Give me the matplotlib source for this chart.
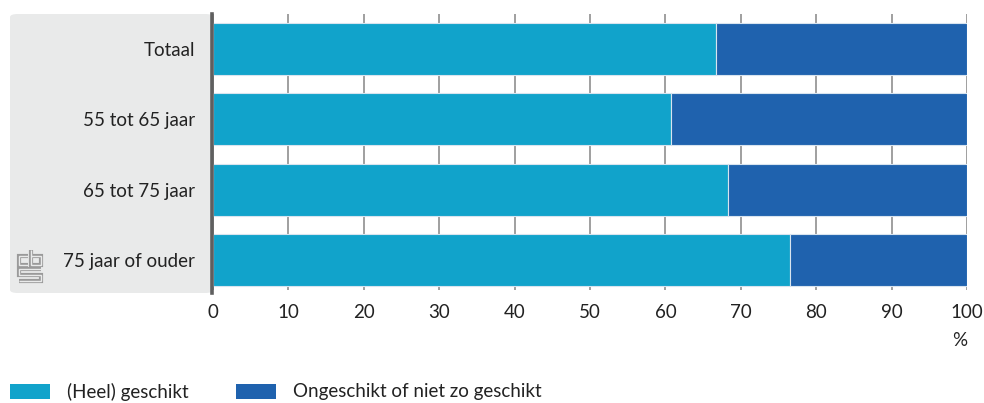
import matplotlib
matplotlib.use("Agg")
import matplotlib.pyplot as plt
from matplotlib.patches import FancyBboxPatch, Rectangle
from matplotlib.lines import Line2D

categories = ["Totaal", "55 tot 65 jaar", "65 tot 75 jaar", "75 jaar of ouder"]
geschikt = [66.7, 60.7, 68.3, 76.5]
ongeschikt = [100 - v for v in geschikt]
series_names = ["(Heel) geschikt", "Ongeschikt of niet zo geschikt"]
xticks = [0, 10, 20, 30, 40, 50, 60, 70, 80, 90, 100]

c1 = "#11a3cb"
c2 = "#1f62ae"
txt = "#222222"
FS = 13.5

plt.rcParams['font.family'] = ['Lato', 'DejaVu Sans']

W, H = 984, 403
fig = plt.figure(figsize=(W / 100, H / 100), dpi=100)

# grey label panel
panel = FancyBboxPatch((10 / W, 1 - 293 / H), (213 - 10) / W, (293 - 14) / H,
                       boxstyle="round,pad=0,rounding_size=0.008",
                       transform=fig.transFigure, facecolor="#e9eaea",
                       edgecolor="none", zorder=-5)
fig.patches.append(panel)

ax = fig.add_axes([213 / W, 1 - 290 / H, (967 - 213) / W, (290 - 14) / H])
ax.set_zorder(2)
ax.set_facecolor("none")
y = list(range(len(categories)))
ax.barh(y, geschikt, height=0.74, color=c1, edgecolor="#d8e4ef", linewidth=0.8, zorder=3)
ax.barh(y, ongeschikt, left=geschikt, height=0.74, color=c2, edgecolor="#d8e4ef",
        linewidth=0.8, zorder=3)
ax.set_ylim(3.43, -0.5)
ax.set_xlim(0, 100)
ax.set_xticks(xticks)
ax.set_xticklabels([str(t) for t in xticks], fontsize=FS, color=txt)
ax.tick_params(axis="x", length=0, pad=10)
ax.set_yticks(y)
ax.set_yticklabels(categories, fontsize=FS, color=txt)
ax.tick_params(axis="y", length=0, pad=13)
for s in ax.spines.values():
    s.set_visible(False)
ax.grid(axis="x", color="#8f8f8f", linewidth=1.2, zorder=1)
ax.set_axisbelow(True)

# vertical axis line
fig.add_artist(Line2D([212 / W, 212 / W], [1 - 14 / H, 1 - 293 / H],
                      transform=fig.transFigure, color="#5f5f5f", linewidth=2.6, zorder=5))

fig.text(960 / W, 1 - 341 / H, "%", fontsize=FS, color=txt, ha="center", va="center")

# legend
for name, col, xp in zip(series_names, [c1, c2], [10, 236]):
    fig.patches.append(Rectangle((xp / W, 1 - 399 / H), 40 / W, 15 / H,
                                 transform=fig.transFigure, facecolor=col, edgecolor="none"))
    fig.text((xp + 57) / W, 1 - 392 / H, name, fontsize=FS, color=txt,
             ha="left", va="center")

# simple logo mark (outlined strokes)
paths = [
    ([28, 19, 19, 28], [256, 256, 265, 265]),
    ([31, 31, 41, 41, 31], [250, 265, 265, 256, 256]),
    ([41, 19, 19, 41, 41, 19], [269, 269, 275, 275, 281, 281]),
]
for xs, ys in paths:
    X = [v / W for v in xs]
    Y = [1 - v / H for v in ys]
    fig.add_artist(Line2D(X, Y, transform=fig.transFigure, color="#9a9a9a",
                          linewidth=3.0, solid_joinstyle="miter", solid_capstyle="butt"))
    fig.add_artist(Line2D(X, Y, transform=fig.transFigure, color="#e9eaea",
                          linewidth=1.0, solid_joinstyle="miter", solid_capstyle="butt"))

fig.savefig("out.png", dpi=100)
